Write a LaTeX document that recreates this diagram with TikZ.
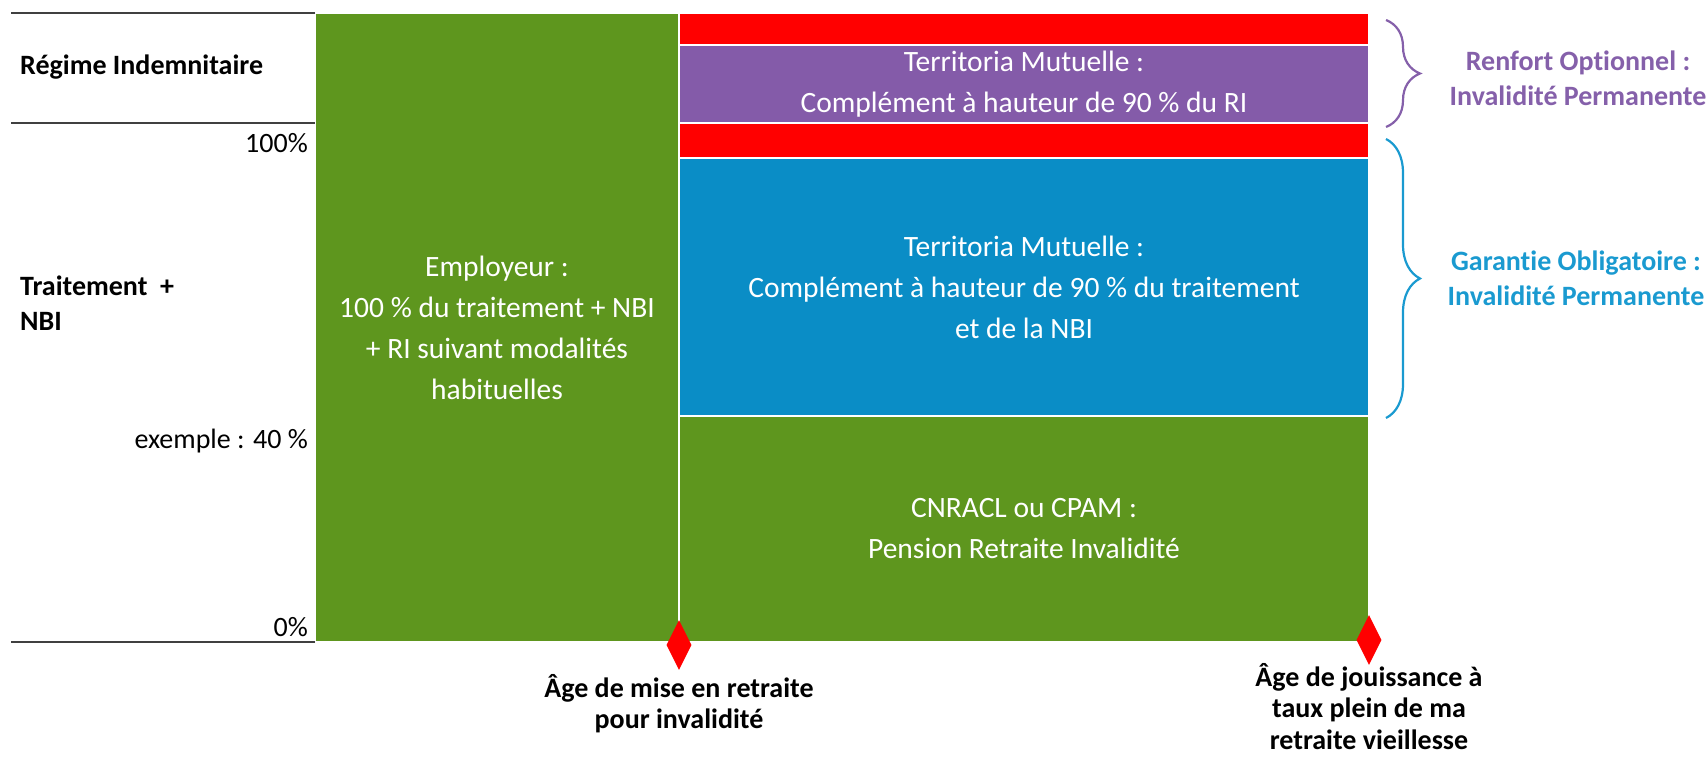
\documentclass[tikz,border=0pt]{standalone}
\usepackage{fontspec}
\setmainfont{Carlito}[Ligatures=NoCommon]
\usetikzlibrary{positioning,shapes.geometric,decorations.pathreplacing}
\definecolor{gvert}{HTML}{5E961E}
\definecolor{grouge}{HTML}{FF0000}
\definecolor{gviolet}{HTML}{845BA9}
\definecolor{gbleu}{HTML}{0A8DC6}
\definecolor{gtrait}{HTML}{404040}
\definecolor{gaccviolet}{HTML}{8560AA}
\definecolor{gaccbleu}{HTML}{1A9AD0}

\begin{document}
\begin{tikzpicture}[x=1pt,y=-1pt,
            bloc/.style={draw=white,line width=1.5pt,anchor=north west,inner sep=0pt,outer sep=0pt,
                text=white,align=center,font=\fontsize{29.5}{41}\selectfont},
            etiquette/.style={inner sep=0pt,font=\fontsize{28}{35}\selectfont},
            agetexte/.style={inner sep=0pt,align=center,font=\fontsize{28}{31.5}\selectfont\bfseries},
            garantie/.style={inner sep=0pt,align=center,font=\fontsize{28}{35}\selectfont\bfseries},
            losange/.style={diamond,fill=grouge,inner sep=0pt,minimum width=25pt,minimum height=50pt,aspect=0.5},
            trait/.style={gtrait,line width=2pt},
            accolade/.style={decorate,decoration={brace,amplitude=34pt},line width=2.2pt}]
            \useasboundingbox (0,0) rectangle (1706,759);
            \node[bloc,fill=gvert,minimum width=364pt,minimum height=629pt] (employeur) at (315,13)
                {Employeur :\\100 \% du traitement + NBI\\+ RI suivant modalités\\habituelles};
            \node[bloc,fill=grouge,minimum width=690pt,minimum height=32pt] (rouge1) at (employeur.north east) {};
            \node[bloc,fill=gviolet,minimum width=690pt,minimum height=78pt] (violet) at (rouge1.south west)
                {Territoria Mutuelle :\\Complément à hauteur de 90 \% du RI};
            \node[bloc,fill=grouge,minimum width=690pt,minimum height=35pt] (rouge2) at (violet.south west) {};
            \node[bloc,fill=gbleu,minimum width=690pt,minimum height=258pt] (bleu) at (rouge2.south west)
                {Territoria Mutuelle :\\Complément à hauteur de 90 \% du traitement\\et de la NBI};
            \node[bloc,fill=gvert,minimum width=690pt,minimum height=226pt] (cnracl) at (bleu.south west)
                {CNRACL ou CPAM :\\Pension Retraite Invalidité};
            \draw[trait] (employeur.north west) -- ++(-304,0);
            \draw[trait] (employeur.north west) ++(0,110) coordinate (ri) -- ++(-304,0);
            \draw[trait] (employeur.south west) -- ++(-304,0);
            \node[etiquette,anchor=west,font=\fontsize{28}{35}\selectfont\bfseries] (regime) at (20,67) {Régime Indemnitaire};
            \node[etiquette,anchor=west,align=left,font=\fontsize{28}{35}\selectfont\bfseries] (traitement) at (20,303) {Traitement~ +\\NBI};
            \node[etiquette,anchor=east] (cent) at (308,143) {100\%};
            \node[etiquette,anchor=east] (quarante) at (308,441) {exemple : 40 \%};
            \node[etiquette,anchor=east] (zero) at (308,627) {0\%};
            \node[losange,yshift=-3pt] (age1) at (employeur.south east) {};
            \node[losange,yshift=2pt] (age2) at (cnracl.south east) {};
            \node[agetexte,below=4pt of age1] (mise) {Âge de mise en retraite\\pour invalidité};
            \node[agetexte,below=-2pt of age2] (jouissance) {Âge de jouissance à\\taux plein de ma\\retraite vieillesse};
            \draw[accolade,gaccviolet] (1386,20) -- (1386,127);
            \draw[accolade,gaccbleu] (1386,139) -- (1386,418);
            \node[garantie,text=gaccviolet] (renfort) at (1578,78) {Renfort Optionnel :\\Invalidité Permanente};
            \node[garantie,text=gaccbleu] (obligatoire) at (1576,278) {Garantie Obligatoire :\\Invalidité Permanente};
        \end{tikzpicture}
\end{document}
